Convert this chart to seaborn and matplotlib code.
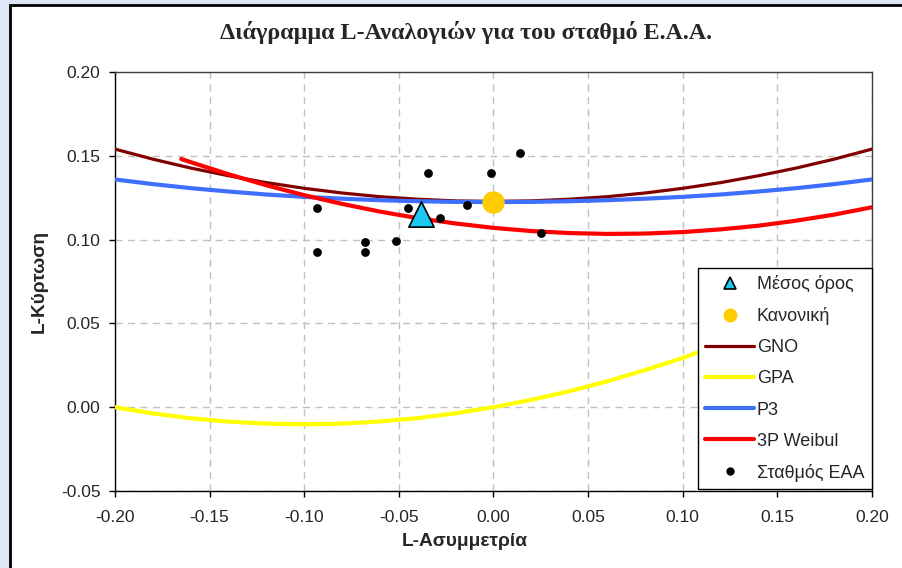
import matplotlib
matplotlib.use("Agg")
import matplotlib.pyplot as plt
import matplotlib.patches as mpatches
import seaborn as sns
import pandas as pd

# ---- data ----
tau3_grid = [-0.20, -0.18, -0.16, -0.14, -0.12, -0.10, -0.08, -0.06, -0.04, -0.02,
             0.00, 0.02, 0.04, 0.06, 0.08, 0.10, 0.12, 0.14, 0.16, 0.18, 0.20]
gno = [0.1540, 0.1480, 0.1427, 0.1381, 0.1340, 0.1306, 0.1278, 0.1256, 0.1241, 0.1231,
       0.1228, 0.1231, 0.1241, 0.1256, 0.1278, 0.1306, 0.1340, 0.1381, 0.1427, 0.1480, 0.1540]
gpa = [0.0000, -0.0037, -0.0066, -0.0086, -0.0098, -0.0102, -0.0098, -0.0085, -0.0065, -0.0036,
       0.0000, 0.0044, 0.0095, 0.0154, 0.0221, 0.0294, 0.0375, 0.0463, 0.0558, 0.0660, 0.0769]
p3 = [0.1359, 0.1331, 0.1307, 0.1287, 0.1269, 0.1255, 0.1244, 0.1235, 0.1229, 0.1225,
      0.1224, 0.1225, 0.1229, 0.1235, 0.1244, 0.1255, 0.1269, 0.1287, 0.1307, 0.1331, 0.1359]
weib_tau3 = [-0.165, -0.16, -0.14, -0.12, -0.10, -0.08, -0.06, -0.04, -0.02,
             0.00, 0.02, 0.04, 0.06, 0.08, 0.10, 0.12, 0.14, 0.16, 0.18, 0.20]
weib = [0.1481, 0.1462, 0.1390, 0.1324, 0.1265, 0.1213, 0.1167, 0.1128, 0.1096,
        0.1070, 0.1051, 0.1039, 0.1034, 0.1036, 0.1045, 0.1061, 0.1083, 0.1113, 0.1149, 0.1193]
station_t3 = [-0.093, -0.093, -0.068, -0.068, -0.0515, -0.045, -0.0346, -0.0283,
              -0.014, -0.0013, 0.014, 0.025]
station_t4 = [0.0925, 0.1187, 0.0984, 0.0925, 0.0990, 0.1187, 0.1396, 0.1128,
              0.1205, 0.1400, 0.1516, 0.1038]
mean_t3 = [-0.0382]
mean_t4 = [0.1155]
normal_t3 = [0.0]
normal_t4 = [0.1226]

title = "Διάγραμμα L-Αναλογιών για του σταθμό Ε.Α.Α."
xlabel = "L-Ασυμμετρία"
ylabel = "L-Κύρτωση"
xticks = [-0.20, -0.15, -0.10, -0.05, 0.00, 0.05, 0.10, 0.15, 0.20]
yticks = [-0.05, 0.00, 0.05, 0.10, 0.15, 0.20]

sns.set_theme(style="white")
plt.rcParams['font.family'] = ['Liberation Sans', 'DejaVu Sans']

W, H = 903, 568
fig = plt.figure(figsize=(W / 100, H / 100), dpi=100)
fig.patch.set_facecolor("#dfe6f6")

# white chart area with black border on top/left
chart_bg = mpatches.Rectangle((10 / W, -0.05), 1.2, 1 - 4.5 / H + 0.05,
                              transform=fig.transFigure, facecolor="white",
                              edgecolor="black", linewidth=2, zorder=-10)
fig.patches.append(chart_bg)

ax = fig.add_axes([115 / W, 1 - 491 / H, (872 - 115) / W, (491 - 72) / H])
ax.set_zorder(1)
ax.set_facecolor("white")

curves = [
    ("GNO", tau3_grid, gno, "#800000", 2.3),
    ("GPA", tau3_grid, gpa, "#ffff00", 3.0),
    ("P3", tau3_grid, p3, "#3f6fff", 3.0),
    ("3P Weibul", weib_tau3, weib, "#ff0000", 3.0),
]
handles = {}
for name, xs, ys, col, lw in curves:
    df = pd.DataFrame({"x": xs, "y": ys})
    sns.lineplot(data=df, x="x", y="y", ax=ax, color=col, linewidth=lw,
                 sort=False, estimator=None, zorder=3)
    handles[name] = plt.Line2D([], [], color=col, linewidth=lw)

df_st = pd.DataFrame({"x": station_t3, "y": station_t4})
sns.scatterplot(data=df_st, x="x", y="y", ax=ax, color="black", s=40,
                edgecolor="black", linewidth=0, zorder=5)
df_n = pd.DataFrame({"x": normal_t3, "y": normal_t4})
sns.scatterplot(data=df_n, x="x", y="y", ax=ax, color="#ffcc00", s=260,
                edgecolor="#ffcc00", linewidth=0, zorder=6)
df_m = pd.DataFrame({"x": mean_t3, "y": mean_t4})
sns.scatterplot(data=df_m, x="x", y="y", ax=ax, marker="^", color="#1ec8f0", s=330,
                edgecolor="black", linewidth=1.2, zorder=7)

h_mean = plt.Line2D([], [], marker="^", linestyle="none", markersize=8,
                    markerfacecolor="#1ec8f0", markeredgecolor="black", markeredgewidth=1.2)
h_norm = plt.Line2D([], [], marker="o", linestyle="none", markersize=9,
                    markerfacecolor="#ffcc00", markeredgecolor="#ffcc00")
h_st = plt.Line2D([], [], marker="o", linestyle="none", markersize=5,
                  markerfacecolor="black", markeredgecolor="black")

leg = ax.legend([h_mean, h_norm, handles["GNO"], handles["GPA"], handles["P3"],
                 handles["3P Weibul"], h_st],
                ["Μέσος όρος", "Κανονική", "GNO", "GPA", "P3", "3P Weibul", "Σταθμός ΕΑΑ"],
                loc="lower right", bbox_to_anchor=(1.0, 0.004), borderaxespad=0,
                frameon=True, fancybox=False, framealpha=1, edgecolor="black",
                fontsize=13, handlelength=2.7, handletextpad=0.15, labelspacing=0.78,
                borderpad=0.42)
leg.get_frame().set_linewidth(1.0)
leg.set_zorder(10)

ax.set_xlim(-0.20, 0.20)
ax.set_ylim(-0.05, 0.20)
ax.set_xticks(xticks)
ax.set_yticks(yticks)
ax.set_xticklabels([f"{v:.2f}" for v in xticks])
ax.set_yticklabels([f"{v:.2f}" for v in yticks])
ax.tick_params(axis="both", labelsize=12.5, direction="out", length=4, width=1,
               color="black", bottom=True, left=True)
ax.tick_params(axis="x", pad=9.5)
ax.tick_params(axis="y", pad=6.5)
ax.grid(True, color="#c0c0c0", linestyle=(0, (5, 4)), linewidth=1)
ax.set_axisbelow(True)
for s in ax.spines.values():
    s.set_color("black")
    s.set_linewidth(1)
for s in ["top", "right"]:
    ax.spines[s].set_color("#404040")

ax.set_xlabel(xlabel, fontsize=13.8, fontweight="bold")
ax.set_ylabel(ylabel, fontsize=13.8, fontweight="bold")
ax.xaxis.set_label_coords((465 - 115) / 757, (491 - 533) / 419)
ax.yaxis.set_label_coords((48 - 115) / 757, 0.5)

fig.text(466 / W, 1 - 32 / H, title, ha="center", va="center", fontsize=17.4,
         fontweight="bold", family=["Liberation Serif", "DejaVu Serif"])

fig.savefig("out.png", dpi=100, facecolor=fig.get_facecolor())
